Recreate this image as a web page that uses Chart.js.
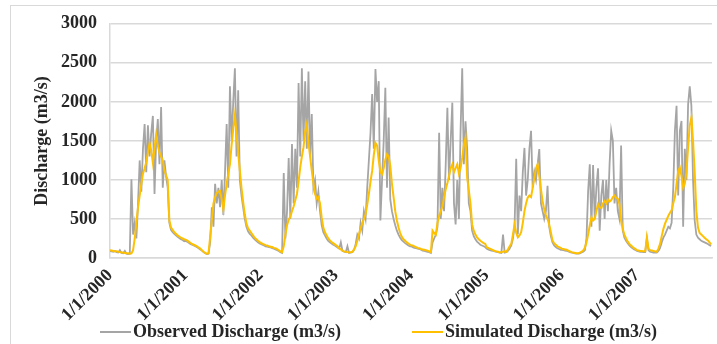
<!DOCTYPE html>
<html>
<head>
<meta charset="utf-8">
<script src="https://cdn.jsdelivr.net/npm/chart.js@4.4.0/dist/chart.umd.min.js"></script>
<style>
  html, body { margin: 0; padding: 0; background: #fff; }
  #wrap { position: relative; width: 717px; height: 344px; overflow: hidden; }
  #frame { position: absolute; left: 10px; top: 5px; width: 720px; height: 360px; border: 1px solid #d9d9d9; box-sizing: border-box; }
  canvas { position: absolute; left: 0; top: 0; }
</style>
</head>
<body>
<div id="wrap">
  <div id="frame"></div>
  <canvas id="dischargeChart" width="717" height="344"></canvas>
</div>
<script>
// Axis labels and the day each year starts on (days since 1/1/2000)
const yearLabels = ['1/1/2000', '1/1/2001', '1/1/2002', '1/1/2003', '1/1/2004', '1/1/2005', '1/1/2006', '1/1/2007'];
const yearStartDays = [0, 366, 731, 1096, 1461, 1827, 2192, 2557];
const lastDay = 2921;
const stepDays = 8; // one reading every 8 days within each year

// Observed discharge (m3/s), per year
const obs2000 = [90, 85, 80, 90, 75, 70, 100, 65, 60, 90, 55, 50, 55, 1010, 300, 450, 250, 700, 1250, 850, 1400, 1715, 1100, 1700, 1300, 1600, 1820, 820, 1500, 1780, 1200, 1935, 900, 1250, 1050, 900, 450, 360, 330, 310, 290, 270, 255, 240, 230, 215];
const obs2001 = [220, 210, 195, 180, 170, 160, 150, 140, 125, 110, 95, 75, 60, 50, 55, 200, 650, 400, 950, 700, 900, 650, 1000, 550, 1100, 1715, 900, 2200, 1500, 2000, 2430, 1300, 2150, 1000, 800, 650, 500, 400, 340, 310, 290, 260, 240, 220, 200, 185];
const obs2002 = [180, 170, 160, 150, 145, 140, 135, 125, 120, 110, 100, 90, 75, 65, 1090, 250, 600, 1280, 500, 1460, 700, 1400, 900, 2240, 1300, 2430, 1500, 2265, 1400, 2390, 1300, 1845, 900, 1000, 700, 850, 600, 420, 330, 290, 250, 220, 200, 185, 170, 160];
const obs2003 = [150, 135, 120, 200, 90, 80, 75, 150, 65, 70, 75, 100, 180, 300, 250, 450, 350, 600, 500, 900, 1245, 1600, 2100, 1400, 2420, 2000, 2265, 480, 1000, 1500, 2180, 900, 1800, 750, 600, 500, 420, 350, 300, 260, 230, 210, 190, 175, 160, 150];
const obs2004 = [150, 140, 130, 125, 120, 115, 105, 95, 90, 85, 80, 75, 65, 200, 250, 300, 400, 1605, 500, 900, 600, 1200, 1925, 1000, 1500, 1990, 700, 430, 1000, 500, 1625, 2430, 1200, 1750, 1400, 700, 600, 350, 280, 240, 210, 190, 170, 160, 150, 140];
const obs2005 = [120, 110, 100, 95, 90, 85, 80, 75, 70, 65, 300, 70, 75, 90, 120, 160, 250, 400, 1270, 300, 800, 600, 1100, 1410, 800, 1000, 1400, 1630, 900, 1100, 1000, 1200, 1395, 700, 600, 500, 600, 925, 400, 280, 200, 160, 140, 125, 115, 105];
const obs2006 = [105, 100, 95, 90, 85, 75, 70, 65, 60, 55, 55, 60, 70, 80, 100, 250, 860, 1200, 400, 1190, 500, 900, 1150, 350, 800, 1000, 500, 1000, 600, 1200, 1630, 1500, 700, 900, 600, 500, 1440, 350, 260, 220, 190, 160, 140, 125, 110, 100];
const obs2007 = [90, 85, 80, 80, 75, 75, 250, 100, 80, 75, 70, 70, 70, 90, 130, 200, 260, 300, 350, 400, 380, 450, 900, 1630, 1950, 800, 1630, 1755, 400, 1400, 1000, 1965, 2200, 1950, 1000, 480, 300, 260, 240, 220, 210, 200, 190, 180, 165, 155];

// Simulated discharge (m3/s), per year
const sim2000 = [100, 95, 90, 85, 85, 80, 75, 70, 70, 65, 60, 60, 55, 60, 100, 250, 450, 650, 800, 950, 1080, 1150, 1230, 1350, 1470, 1380, 1220, 1400, 1580, 1440, 1350, 1300, 1250, 1120, 1060, 1000, 480, 390, 360, 330, 310, 290, 275, 260, 250, 240];
const sim2001 = [235, 225, 210, 195, 180, 170, 160, 150, 135, 120, 100, 80, 65, 55, 60, 270, 480, 700, 780, 830, 850, 860, 750, 620, 800, 950, 1080, 1200, 1450, 1650, 1830, 1600, 1350, 1120, 900, 720, 560, 440, 380, 350, 320, 290, 260, 240, 220, 205];
const sim2002 = [195, 185, 175, 165, 160, 150, 145, 140, 130, 125, 115, 100, 85, 75, 150, 300, 420, 490, 530, 600, 660, 740, 820, 980, 1160, 1300, 1420, 1620, 1715, 1480, 1300, 1120, 960, 820, 760, 780, 700, 520, 390, 330, 290, 250, 225, 205, 190, 175];
const sim2003 = [165, 150, 125, 110, 95, 85, 80, 75, 70, 75, 80, 110, 150, 220, 300, 380, 440, 500, 560, 680, 820, 980, 1115, 1320, 1475, 1440, 1250, 1100, 1075, 1150, 1260, 1330, 1300, 1180, 950, 780, 600, 480, 390, 320, 270, 240, 220, 200, 185, 170];
const sim2004 = [165, 160, 150, 140, 130, 125, 115, 110, 105, 100, 95, 85, 75, 350, 320, 300, 450, 540, 600, 660, 780, 880, 960, 1050, 1150, 1200, 1100, 1150, 1200, 1080, 1150, 1285, 1450, 1540, 1030, 870, 700, 430, 350, 300, 265, 240, 220, 205, 190, 180];
const sim2005 = [140, 130, 120, 110, 100, 90, 85, 80, 70, 75, 80, 85, 80, 110, 150, 180, 300, 430, 320, 265, 290, 330, 450, 600, 700, 775, 800, 780, 900, 1030, 1150, 1200, 1050, 880, 730, 620, 550, 500, 430, 330, 225, 190, 170, 150, 140, 130];
const sim2006 = [120, 115, 110, 105, 95, 85, 75, 70, 65, 60, 60, 70, 80, 95, 130, 200, 300, 420, 520, 480, 500, 600, 690, 650, 640, 700, 730, 700, 750, 720, 740, 780, 800, 770, 760, 690, 480, 370, 300, 250, 210, 180, 160, 140, 125, 110];
const sim2007 = [100, 95, 90, 90, 85, 85, 265, 120, 100, 95, 90, 85, 80, 120, 180, 280, 370, 440, 490, 540, 580, 610, 700, 780, 950, 1115, 1160, 1050, 900, 950, 1100, 1415, 1700, 1800, 1500, 1100, 600, 390, 320, 300, 280, 260, 240, 225, 200, 175];

const observedByYear = [obs2000, obs2001, obs2002, obs2003, obs2004, obs2005, obs2006, obs2007];
const simulatedByYear = [sim2000, sim2001, sim2002, sim2003, sim2004, sim2005, sim2006, sim2007];

function toPoints(years) {
  const points = [];
  years.forEach((values, y) => {
    values.forEach((v, i) => points.push({ x: yearStartDays[y] + i * stepDays, y: v }));
  });
  return points;
}

const textColor = '#262626';
const gridColor = '#d9d9d9';
const serif = '"Liberation Serif", "Times New Roman", serif';

// Legend drawn under the axis, Excel style
const bottomLegend = {
  id: 'bottomLegend',
  afterDraw(chart) {
    const ctx = chart.ctx;
    const y = 332;
    const spots = [100, 412];
    ctx.save();
    ctx.font = 'bold 18px ' + serif;
    ctx.textBaseline = 'middle';
    chart.data.datasets.forEach((ds, i) => {
      const x = spots[i];
      ctx.strokeStyle = ds.borderColor;
      ctx.lineWidth = 2;
      ctx.beginPath();
      ctx.moveTo(x, y);
      ctx.lineTo(x + 31, y);
      ctx.stroke();
      ctx.fillStyle = textColor;
      ctx.fillText(ds.label, x + 33, y);
    });
    ctx.restore();
  }
};

const ctx = document.getElementById('dischargeChart').getContext('2d');
const chart = new Chart(ctx, {
  type: 'line',
  data: {
    datasets: [{
      label: 'Observed Discharge (m3/s)',
      data: toPoints(observedByYear),
      borderColor: '#a5a5a5',
      borderWidth: 1.8,
      pointRadius: 0,
      fill: false,
      tension: 0,
      order: 1
    }, {
      label: 'Simulated Discharge (m3/s)',
      data: toPoints(simulatedByYear),
      borderColor: '#ffc000',
      borderWidth: 2,
      pointRadius: 0,
      fill: false,
      tension: 0,
      order: 0
    }]
  },
  options: {
    responsive: false,
    devicePixelRatio: 1,
    animation: false,
    layout: { padding: { left: 0, right: 5, top: 23, bottom: 14 } },
    plugins: {
      legend: { display: false },
      tooltip: { enabled: false }
    },
    scales: {
      x: {
        type: 'linear',
        min: 0,
        max: lastDay,
        grid: { display: false },
        border: { display: true, color: gridColor, width: 1.5 },
        afterBuildTicks: scale => {
          scale.ticks = yearStartDays.map(v => ({ value: v }));
        },
        afterFit: scale => { scale.height = 72; },
        ticks: {
          autoSkip: false,
          minRotation: 45,
          maxRotation: 45,
          padding: -1,
          color: textColor,
          font: { family: serif, size: 18, weight: 'bold' },
          callback: value => yearLabels[yearStartDays.indexOf(value)]
        }
      },
      y: {
        min: 0,
        max: 3000,
        grid: { color: gridColor, lineWidth: 1.5, drawTicks: false },
        border: { display: true, color: gridColor, width: 1.5 },
        afterFit: scale => { scale.width = 110; },
        ticks: {
          stepSize: 500,
          padding: 13,
          color: textColor,
          font: { family: serif, size: 18, weight: 'bold' },
          callback: value => String(value)
        },
        title: {
          display: true,
          text: 'Discharge (m3/s)',
          color: textColor,
          padding: { top: 32, bottom: 0 },
          font: { family: serif, size: 18, weight: 'bold' }
        }
      }
    }
  },
  plugins: [bottomLegend]
});
</script>
</body>
</html>
